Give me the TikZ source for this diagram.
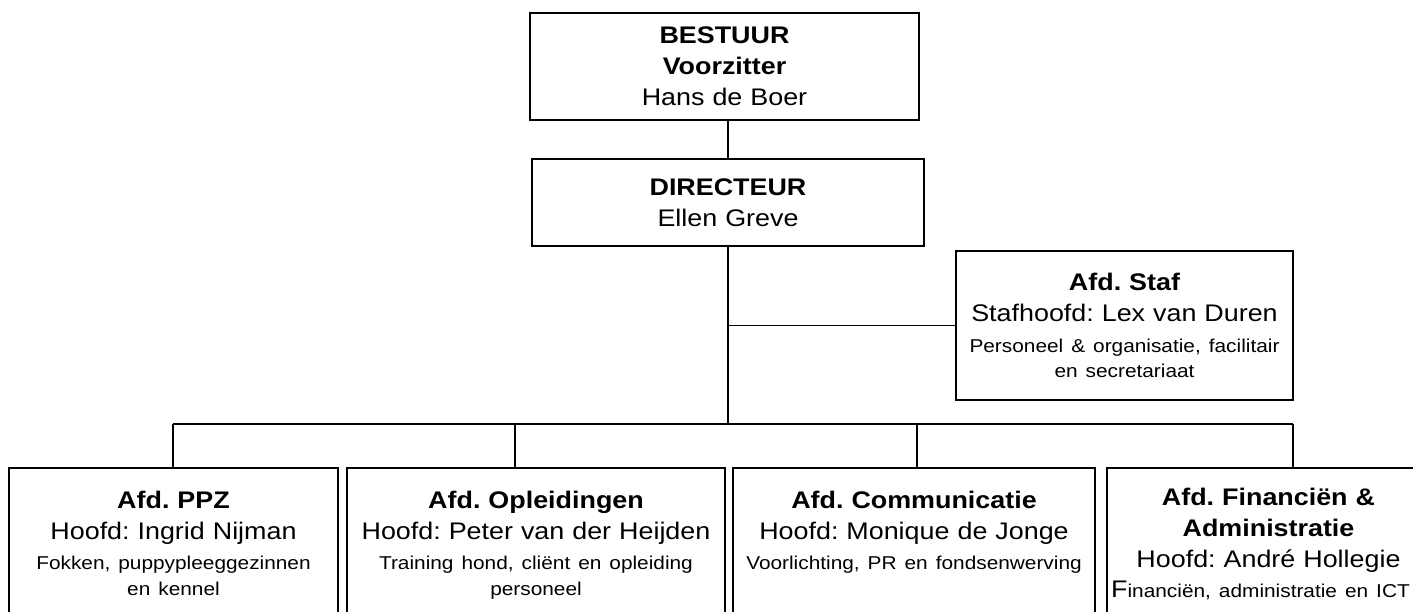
\documentclass[tikz,border=0pt]{standalone}
\usepackage{fontspec}
\setmainfont{Liberation Sans}[FakeStretch=1.12]
\frenchspacing
\newcommand{\deptnote}[1]{\par\vspace{2.5pt}{\fontsize{9.3pt}{12.75pt}\selectfont #1\par}}
\newcommand{\deptend}{\par\vspace*{40pt}}

\begin{document}
\begin{tikzpicture}[x=0.5pt,y=-0.5pt,
  box/.style={draw,line width=0.9pt,align=center,inner xsep=1pt,inner ysep=0pt,font=\fontsize{12pt}{15.5pt}\selectfont},
  dept/.style={box,anchor=north,inner ysep=11.5pt,execute at end node=\deptend},
  conn/.style={line width=0.6pt}]
\clip (0,0) rectangle (1413,611);

\node[box,text width=192.5pt,minimum height=53.5pt] (bestuur) at (724.5,66.5) {\textbf{BESTUUR}\\\textbf{Voorzitter}\\Hans de Boer};
\node[box,text width=194pt,minimum height=43.5pt] (directeur) at (728,202.5) {\textbf{DIRECTEUR}\\Ellen Greve};
\node[box,text width=166.5pt,minimum height=74.5pt] (staf) at (1124.5,325.5) {\textbf{Afd. Staf}\\Stafhoofd: Lex van Duren\deptnote{Personeel \& organisatie, facilitair\\en secretariaat}};

\node[dept,text width=162.5pt] (ppz) at (173.5,467) {\textbf{Afd. PPZ}\\Hoofd: Ingrid Nijman\deptnote{Fokken, puppypleeggezinnen\\en kennel}};
\node[dept,text width=187pt] (opl) at (536,467) {\textbf{Afd. Opleidingen}\\Hoofd: Peter van der Heijden\deptnote{Training hond, cliënt en opleiding\\personeel}};
\node[dept,text width=179pt] (com) at (914,467) {\textbf{Afd. Communicatie}\\Hoofd: Monique de Jonge\deptnote{Voorlichting, PR en fondsenwerving}};
\node[dept,text width=159.5pt,inner ysep=10pt] (fin) at (1268.5,467) {\textbf{Afd. Financiën \&}\\\textbf{Administratie}\\Hoofd: André Hollegie\deptnote{{\fontsize{12pt}{12.75pt}\selectfont F}inanciën, administratie en ICT\hspace*{8pt}}};

\coordinate (bus-ppz) at (173,424);
\coordinate (bus-opl) at (515,424);
\coordinate (bus-com) at (917,424);
\coordinate (bus-fin) at (1293,424);

\draw[conn] (directeur.north |- bestuur.south) -- (directeur.north);
\draw[conn] (directeur.south) -- (directeur.south |- bus-ppz);
\draw[conn] (staf.west) -- (staf.west -| directeur.south);
\draw[conn] (bus-ppz) -- (bus-fin);
\foreach \dept in {ppz,opl,com,fin}
  \draw[conn] (bus-\dept) -- (bus-\dept |- \dept.north);
\end{tikzpicture}
\end{document}
